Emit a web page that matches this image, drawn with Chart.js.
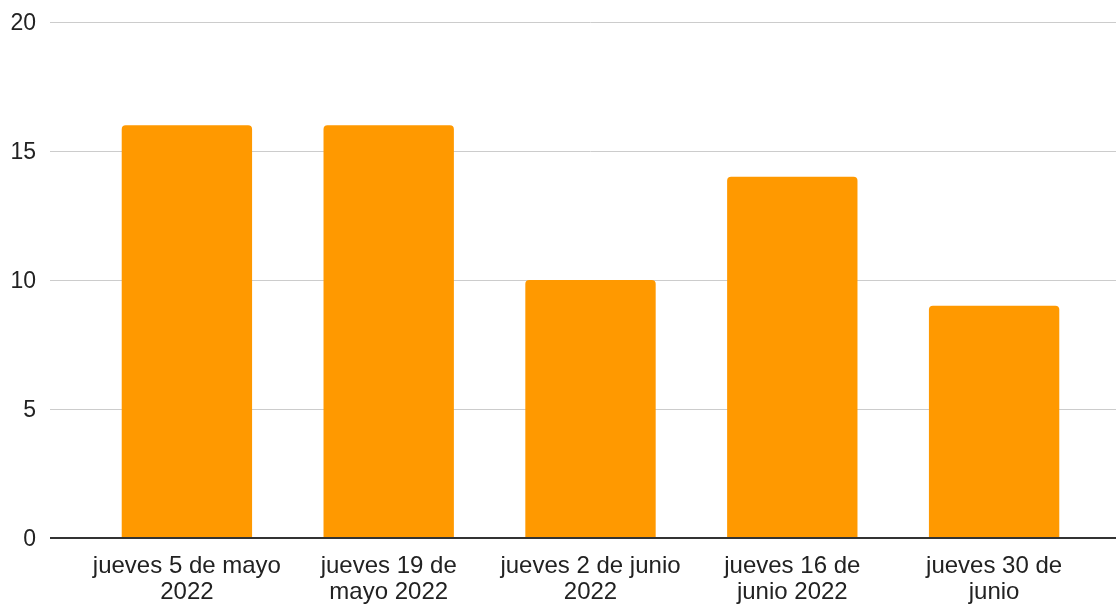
<!DOCTYPE html>
<html>
<head>
<meta charset="utf-8">
<script src="https://cdn.jsdelivr.net/npm/chart.js@4.4.1/dist/chart.umd.min.js"></script>
<style>
  html, body { margin: 0; padding: 0; background: #ffffff; }
  #wrap { width: 1116px; height: 604px; }
</style>
</head>
<body>
<div id="wrap"><canvas id="c" width="1116" height="604"></canvas></div>
<script>
const categories = [
  ['jueves 5 de mayo', '2022'],
  ['jueves 19 de', 'mayo 2022'],
  ['jueves 2 de junio', '2022'],
  ['jueves 16 de', 'junio 2022'],
  ['jueves 30 de', 'junio']
];
const values = [16, 16, 10, 14, 9];
const yMin = 0;
const yMax = 20;
const yStep = 5;

const gridColor = (ctx) => (ctx.tick && ctx.tick.value === 0) ? '#333333' : '#cccccc';
const gridWidth = (ctx) => (ctx.tick && ctx.tick.value === 0) ? 2 : 1;

new Chart(document.getElementById('c'), {
  type: 'bar',
  data: {
    labels: categories,
    datasets: [{
      data: values,
      backgroundColor: '#ff9900',
      borderWidth: 0,
      borderRadius: { topLeft: 4, topRight: 4, bottomLeft: 0, bottomRight: 0 },
      borderSkipped: 'start',
      categoryPercentage: 1.0,
      barPercentage: 0.646
    }]
  },
  options: {
    responsive: false,
    animation: false,
    layout: { padding: { top: 22, left: 0, right: 0, bottom: 0 } },
    plugins: { legend: { display: false }, tooltip: { enabled: false } },
    scales: {
      x: {
        offset: true,
        grid: { display: false, drawTicks: false },
        border: { display: false },
        ticks: {
          autoSkip: false,
          maxRotation: 0,
          minRotation: 0,
          padding: 15,
          color: '#222222',
          font: { family: '"Liberation Sans", Arial, sans-serif', size: 24, lineHeight: 1.1 }
        },
        afterFit: (s) => { s.height = 66; }
      },
      y: {
        min: yMin,
        max: yMax,
        ticks: {
          stepSize: yStep,
          padding: 14,
          labelOffset: 2,
          color: '#222222',
          font: { family: '"Liberation Sans", Arial, sans-serif', size: 23, lineHeight: 0.7 }
        },
        grid: { color: gridColor, lineWidth: gridWidth, drawTicks: true, tickLength: 36 },
        border: { display: false },
        afterFit: (s) => { s.width = 86; }
      },
      y2: {
        position: 'right',
        min: yMin,
        max: yMax,
        ticks: { display: false, stepSize: yStep },
        grid: { color: gridColor, lineWidth: gridWidth, drawOnChartArea: false, drawTicks: true, tickLength: 21 },
        border: { display: false },
        afterFit: (s) => { s.width = 21; }
      }
    }
  }
});
</script>
</body>
</html>
